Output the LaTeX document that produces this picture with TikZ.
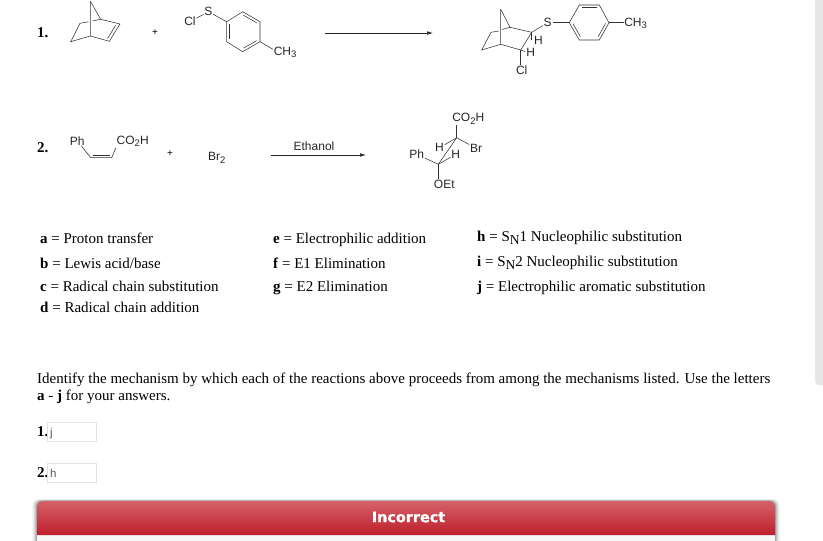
\documentclass[tikz,border=0pt]{standalone}
\usepackage{fontspec}
\setmainfont{Liberation Serif}
\setsansfont{Liberation Sans}
\newfontfamily\bannerfont[BoldFeatures={FakeBold=1.2}]{DejaVu Sans}
\usetikzlibrary{calc}
\usetikzlibrary{arrows.meta}

\definecolor{barTop}{HTML}{D56269}
\definecolor{barBottom}{HTML}{BD1E2B}
\definecolor{panelGrey}{HTML}{F7F7F7}
\definecolor{scrollGrey}{HTML}{E6E6E6}
\definecolor{boxGrey}{HTML}{E2E2E2}

\newcommand{\lowatom}[1]{\raisebox{-2.5pt}{\fontsize{9.5}{9.5}\selectfont #1}}
\newcommand{\lowbody}[1]{\raisebox{-3pt}{\fontsize{13.5}{13.5}\selectfont #1}}

\tikzset{
	atom/.style		= {font=\sffamily\fontsize{12}{12}\selectfont, inner sep=0.6pt, text=black!85},
	plus/.style		= {font=\sffamily\fontsize{10}{10}\selectfont, inner sep=0pt},
	bond/.style		= {line width=0.55pt, black!80},
	rxn/.style		= {-{Latex[length=6pt,width=3.6pt]}, line width=0.6pt, black!85},
	body/.style		= {font=\fontsize{15}{18}\selectfont, anchor=base west, inner sep=0pt},
	numeral/.style	= {body, font=\bfseries\fontsize{15}{18}\selectfont},
	answer/.style	= {draw=boxGrey, fill=white, line width=0.6pt, minimum width=48.5pt, minimum height=18.5pt, inner sep=0pt, anchor=north west},
	typed/.style	= {font=\sffamily\fontsize{11.5}{11.5}\selectfont, text=black!65, anchor=base west, inner sep=0pt}
}

\begin{document}
\begin{tikzpicture}[x=1pt, y=-1pt]
	\path[use as bounding box, fill=white] (0,0) rectangle (823,541);

	% scroll bar
	\fill[scrollGrey, rounded corners=4pt] (815,-8) rectangle (830,385);

	% reaction 1
	\node[numeral] (num1) at (37,37) {1.};
	\coordinate (napex)		at (90.3,1);
	\coordinate (nright)	at (100.7,19.3);
	\coordinate (nene1)		at (120,24);
	\coordinate (nene2)		at (109.3,41.3);
	\coordinate (nbase)		at (90.3,36);
	\coordinate (nleft)		at (70.7,41.7);
	\coordinate (nback)		at (80,23.3);
	\coordinate (ngap)		at (88.5,21.8);
	\draw[bond] (napex) -- (nbase) -- (nleft) -- (nback) -- (ngap);
	\draw[bond] (napex) -- (nright) -- (nene1) -- (nene2) -- (nbase);
	\draw[bond] (nright) -- (92.5,21);
	\draw[bond] ($(nene1)!0.12!(nene2)+(-3,-0.8)$) -- ($(nene1)!0.88!(nene2)+(-3,-0.8)$);
	\node[plus] (plus1) at (155,33) {+};

	\node[atom] (cl1)	at (190,21.7)	{Cl};
	\node[atom] (s1)	at (208.3,11.7)	{S};
	\coordinate (ra)	at (226.7,21.7);
	\coordinate (rb)	at (242.7,11.7);
	\coordinate (rc)	at (260,21.7);
	\coordinate (rd)	at (260,41.7);
	\coordinate (re)	at (242.7,51.7);
	\coordinate (rf)	at (226.7,41.7);
	\node[atom, anchor=west] (me1) at (273,52.5) {CH\lowatom{3}};
	\draw[bond] (cl1) -- (s1);
	\draw[bond] (s1) -- (ra);
	\draw[bond] (ra) -- (rb) -- (rc) -- (rd) -- (re) -- (rf) -- cycle;
	\draw[bond] (rd) -- ($(me1.west)!0.5!(me1.north west)$);
	\draw[bond] ($(ra)!0.12!(rf)+(2.6,0)$) -- ($(ra)!0.88!(rf)+(2.6,0)$);
	\draw[bond] ($(rb)!0.12!(rc)+(-1.3,2.3)$) -- ($(rb)!0.88!(rc)+(-1.3,2.3)$);
	\draw[bond] ($(rd)!0.12!(re)+(-1.3,-2.3)$) -- ($(rd)!0.88!(re)+(-1.3,-2.3)$);

	\coordinate (arrow1a) at (325,33);
	\coordinate (arrow1b) at (433,33);
	\draw[rxn] (arrow1a) -- (arrow1b);

	\coordinate (papex)		at (500.7,9.3);
	\coordinate (pright)	at (510,27.3);
	\coordinate (ps)		at (531.7,32.3);
	\coordinate (pcl)		at (520.7,50);
	\coordinate (pbase)		at (500.7,44.3);
	\coordinate (pleft)		at (481.7,50);
	\coordinate (pback)		at (491,32.3);
	\coordinate (pgap)		at (499,31);
	\node[atom] (s2)	at (547.7,22.7)	{S};
	\node[atom] (h2a)	at (538.5,40)	{H};
	\node[atom] (h2b)	at (530.7,52.7)	{H};
	\node[atom] (cl2)	at (521.7,70)	{Cl};
	\coordinate (qa)	at (569.3,22.7);
	\coordinate (qb)	at (579.3,5);
	\coordinate (qc)	at (599.3,5);
	\coordinate (qd)	at (609,22.7);
	\coordinate (qe)	at (599.3,40);
	\coordinate (qf)	at (579.3,40);
	\node[atom, anchor=west] (me2) at (623.5,23.5) {CH\lowatom{3}};
	\draw[bond] (papex) -- (pbase) -- (pleft) -- (pback) -- (pgap);
	\draw[bond] (papex) -- (pright) -- (ps) -- (pcl) -- (pbase);
	\draw[bond] (pright) -- (502,29.5);
	\draw[bond] (ps) -- (s2);
	\draw[bond] (ps) -- (531.7,40);
	\draw[bond] (pcl) -- (525,51.5);
	\draw[bond] (pcl) -- (pcl |- cl2.north);
	\draw[bond] (s2) -- (qa);
	\draw[bond] (qa) -- (qb) -- (qc) -- (qd) -- (qe) -- (qf) -- cycle;
	\draw[bond] (qd) -- (qd -| me2.west);
	\draw[bond] ($(qb)!0.12!(qc)+(0,2.6)$) -- ($(qb)!0.88!(qc)+(0,2.6)$);
	\draw[bond] ($(qd)!0.12!(qe)+(-2.3,-1.3)$) -- ($(qd)!0.88!(qe)+(-2.3,-1.3)$);
	\draw[bond] ($(qf)!0.12!(qa)+(2.3,-1.3)$) -- ($(qf)!0.88!(qa)+(2.3,-1.3)$);

	% reaction 2
	\node[numeral] (num2) at (37,152) {2.};
	\node[atom] (ph1)	at (77.3,140.7)	{Ph};
	\node[atom] (acid1)	at (132.7,141.5) {CO\lowatom{2}H};
	\coordinate (vinA) at (90.7,157.7);
	\coordinate (vinB) at (111.7,157.7);
	\draw[bond] (ph1) -- (vinA) -- (vinB) -- (acid1.south west);
	\draw[bond] ($(vinA)+(2,-2.6)$) -- ($(vinB)+(-2,-2.6)$);
	\node[plus] (plus2) at (170,154) {+};
	\node[atom] (br2)	at (216.7,158) {Br\lowatom{2}};

	\node[atom] (etoh)	at (314,146)	{Ethanol};
	\coordinate (arrow2a) at (271,155);
	\coordinate (arrow2b) at (366,155);
	\draw[rxn] (arrow2a) -- (arrow2b);

	\node[atom] (acid2)	at (468.3,119) {CO\lowatom{2}H};
	\node[atom] (h3a)	at (439.5,147.7) {H};
	\node[atom] (br3)	at (476,148.3)	{Br};
	\node[atom] (ph3)	at (416.7,154.3) {Ph};
	\node[atom] (h3b)	at (455.7,154.3) {H};
	\node[atom] (oet)	at (444.3,184.3) {OEt};
	\coordinate (cup)	at (456.7,137.7);
	\coordinate (clow)	at (438.3,164.3);
	\draw[bond] (cup |- acid2.south) -- (cup);
	\draw[bond] (cup) -- (clow);
	\draw[bond] (cup) -- (h3a);
	\draw[bond] (cup) -- (br3);
	\draw[bond] (clow) -- (ph3);
	\draw[bond] (clow) -- (h3b);
	\draw[bond] (clow) -- (oet.north -| clow);

	% mechanism list
	\node[body] (mecha) at (40,243)		{\textbf{a} = Proton transfer};
	\node[body] (mechb) at (40,268)		{\textbf{b} = Lewis acid/base};
	\node[body] (mechc) at (40,291)		{\textbf{c} = Radical chain substitution};
	\node[body] (mechd) at (40,312)		{\textbf{d} = Radical chain addition};
	\node[body] (meche) at (273,243)	{\textbf{e} = Electrophilic addition};
	\node[body] (mechf) at (273,268)	{\textbf{f} = E1 Elimination};
	\node[body] (mechg) at (273,291)	{\textbf{g} = E2 Elimination};
	\node[body] (mechh) at (477,241)	{\textbf{h} = S\lowbody{N}1 Nucleophilic substitution};
	\node[body] (mechi) at (477,266)	{\textbf{i} = S\lowbody{N}2 Nucleophilic substitution};
	\node[body] (mechj) at (477,291)	{\textbf{j} = Electrophilic aromatic substitution};

	\node[body] (ask1) at (37,383) {Identify the mechanism by which each of the reactions above proceeds from among the mechanisms listed. Use the letters};
	\node[body] (ask2) at (37,400) {\textbf{a} - \textbf{j} for your answers.};

	% answers
	\node[numeral] (ans1) at (37,436) {1.};
	\node[answer] (box1) at (47,422) {};
	\node[typed] (val1) at (50,436) {j};
	\node[numeral] (ans2) at (37,477) {2.};
	\node[answer] (box2) at (47,463) {};
	\node[typed] (val2) at (50,477) {h};

	% result bar
	\foreach \spread/\shade in {5/3, 4/5, 3/7, 2/10, 1/16}
		\fill[black, opacity=\shade/100, rounded corners=6pt] (37-\spread,545) -- (37-\spread,501-\spread*0.4) -- (775+\spread,501-\spread*0.4) -- (775+\spread,545) -- cycle;
	\fill[panelGrey] (37,535) rectangle (775,541);
	\shade[top color=barTop, bottom color=barBottom] (37,535) [rounded corners=6pt] -- (37,501) -- (775,501) [sharp corners] -- (775,535) -- cycle;
	\node[font=\bannerfont\bfseries\fontsize{14.4}{14.4}\selectfont, text=white, inner sep=0pt] (verdict) at (408.5,517) {Incorrect};
\end{tikzpicture}
\end{document}
